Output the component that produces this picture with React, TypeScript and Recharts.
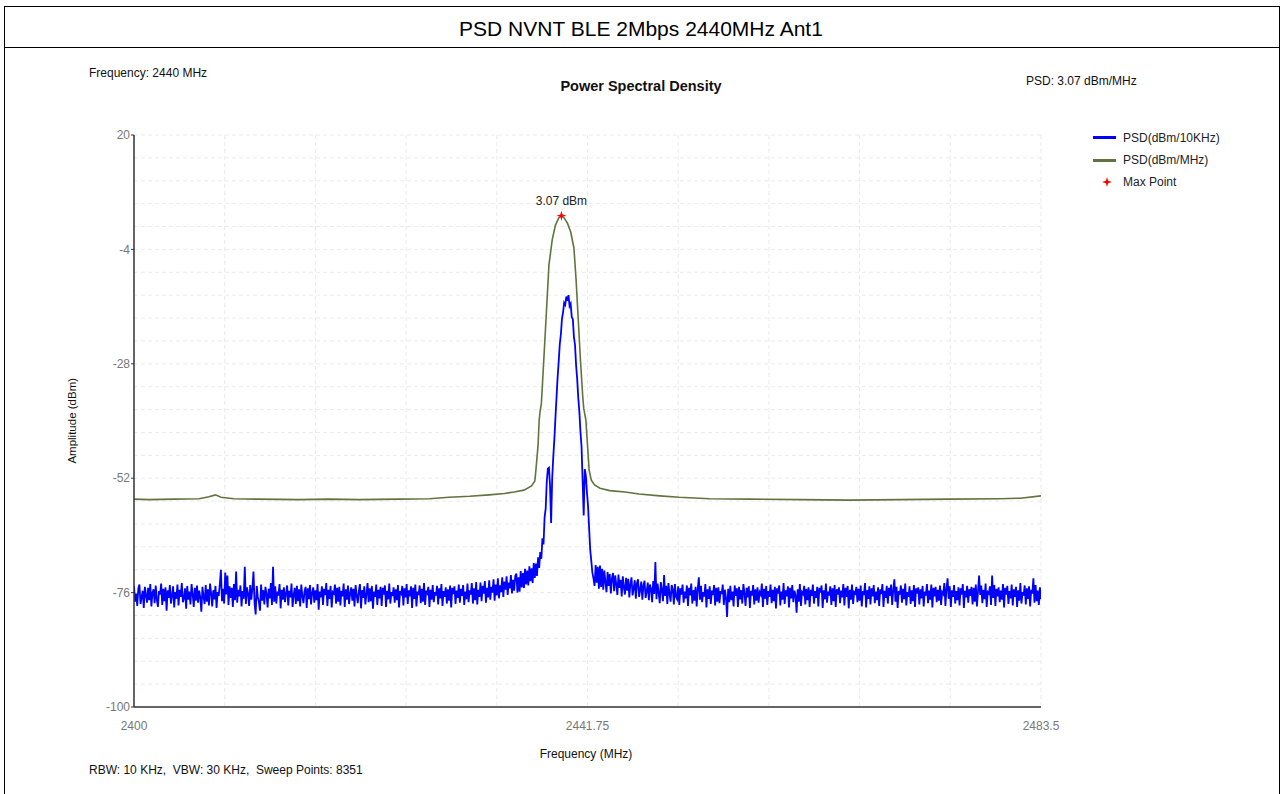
import React from 'react';
import { ComposedChart, Line, Scatter, XAxis, YAxis, CartesianGrid, LabelList } from 'recharts';

// ---- sweep grid of the 10 kHz trace (display points, 0.1 MHz apart) ----
const SWEEP_START = 2400;
const SWEEP_STEP = 0.1;

// PSD (dBm/10KHz), left noise floor (2400.0 .. 2435.1)
const blueLeft = [
  -74.6, -77.9, -76.2, -78.8, -75.1, -74.3, -78.4, -77.0, -75.6, -79.2,
  -74.8, -76.5, -78.1, -75.0, -77.6, -74.2, -78.9, -76.0, -75.3, -78.2,
  -74.5, -77.4, -79.0, -75.7, -76.4, -74.1, -78.6, -75.2, -77.8, -74.9,
  -79.8, -75.5, -77.1, -74.4, -78.3, -76.6, -74.7, -79.1, -75.9, -77.3,
  -74.3, -78.7, -75.4, -76.9, -74.0, -78.0, -77.2, -75.1, -79.4, -74.6,
  -77.5, -75.8, -78.5, -74.2, -76.3, -79.0, -75.0, -77.7, -74.5, -78.1,
  -75.6, -77.0, -80.0, -74.8, -76.8, -78.4, -74.4, -77.9, -75.3, -78.7,
  -74.1, -76.1, -78.9, -75.5, -77.4, -74.6, -79.2, -75.9, -76.7, -74.3,
  -71.2, -77.8, -75.2, -78.3, -71.8, -76.4, -72.4, -78.6, -74.7, -77.1,
  -75.0, -79.0, -74.2, -77.6, -71.6, -78.1, -75.4, -76.8, -74.5, -78.9,
  -75.7, -77.3, -70.6, -78.4, -74.9, -76.2, -78.8, -74.4, -77.5, -75.1,
  -71.6, -78.2, -80.6, -74.6, -76.9, -78.0, -79.8, -74.3, -77.7, -75.5,
  -78.5, -74.8, -76.3, -79.1, -75.2, -77.2, -74.0, -78.6, -70.6, -77.9,
  -74.7, -78.3, -75.8, -76.6, -74.2, -79.3, -75.4, -77.5, -74.9, -78.0,
  -76.1, -74.5, -78.7, -75.6, -77.0, -74.1, -79.0, -76.4, -75.0, -78.4,
  -74.6, -77.8, -75.3, -78.9, -74.3, -76.7, -78.2, -75.7, -74.8, -79.2,
  -75.1, -77.4, -74.4, -78.5, -76.0, -74.9, -78.1, -75.5, -77.6, -74.2,
  -79.6, -75.8, -77.0, -74.7, -78.6, -75.2, -76.5, -74.0, -78.8, -75.4,
  -77.3, -74.6, -79.1, -75.9, -76.2, -74.3, -78.3, -75.0, -77.9, -74.8,
  -78.7, -75.6, -76.8, -74.1, -79.0, -75.3, -77.5, -74.5, -78.4, -76.1,
  -74.9, -77.7, -75.2, -78.9, -74.4, -76.6, -78.2, -75.7, -74.2, -79.3,
  -75.5, -77.1, -74.7, -78.5, -76.3, -74.0, -78.0, -75.1, -77.8, -74.6,
  -79.4, -75.8, -76.9, -74.3, -78.6, -75.4, -77.2, -74.8, -78.8, -75.0,
  -76.4, -74.5, -79.0, -75.6, -77.4, -74.1, -78.3, -75.9, -76.7, -74.9,
  -78.1, -75.3, -77.6, -74.4, -79.1, -75.7, -76.2, -74.6, -78.7, -75.1,
  -77.0, -74.2, -78.4, -75.5, -76.8, -74.7, -79.2, -75.0, -77.3, -74.3,
  -78.9, -75.8, -76.5, -74.5, -78.2, -75.2, -77.9, -74.0, -78.6, -75.6,
  -76.1, -74.8, -79.0, -75.4, -77.5, -74.4, -78.0, -75.9, -76.6, -74.6,
  -78.5, -75.1, -77.2, -74.2, -78.8, -75.7, -76.9, -74.9, -78.3, -75.3,
  -77.7, -74.5, -79.1, -75.0, -76.3, -74.7, -78.4, -75.6, -77.1, -74.3,
  -78.1, -75.2, -76.7, -74.4, -78.6, -75.8, -77.4, -74.1, -78.0, -75.5,
  -76.4, -74.0, -78.3, -75.1, -77.6, -73.8, -78.5, -75.4, -76.9, -73.9,
  -77.8, -74.6, -76.2, -73.6, -78.1, -75.0, -77.0, -73.4, -77.5, -74.8,
  -76.0, -73.2, -77.7, -74.3, -76.6, -73.0, -77.2, -74.5, -75.9, -72.8,
  -76.9, -73.7, -75.4, -72.6, -76.5, -73.9, -75.1, -72.3, -76.2, -73.3,
  -75.6, -72.5,
];

// PSD (dBm/10KHz) around the carrier (2435.2 .. 2443.1)
const bluePeak = [
  -72.0, -76.0, -72.8, -75.8, -71.5, -74.9, -71.9, -75.0, -71.0, -74.3,
  -71.4, -74.5, -70.5, -73.6, -70.9, -74.0, -69.8, -72.9, -69.9, -72.5,
  -68.6, -70.8, -67.5, -68.9, -64.6, -65.9, -60.2, -58.4, -52.8, -50.0,
  -49.8, -53.5, -61.4, -52.0, -47.5, -43.8, -39.2, -35.0, -30.8, -27.5,
  -23.8, -21.8, -18.5, -17.2, -15.2, -15.6, -13.9, -14.8, -13.6, -15.9,
  -15.4, -18.2, -18.6, -22.4, -24.0, -28.3, -31.2, -35.1, -38.0, -42.2,
  -45.3, -52.5, -59.8, -50.1, -51.5, -55.0, -57.8, -62.5, -67.0, -69.4,
  -71.8, -73.0, -74.6, -70.2, -73.9, -70.6, -75.2, -70.3, -74.8, -71.0,
];

// PSD (dBm/10KHz) right noise floor (2443.2 .. 2483.5)
const blueRight = [
  -75.4, -71.4, -73.8, -75.9, -71.7, -74.6, -72.1, -76.2, -73.0, -71.9,
  -75.7, -72.4, -74.3, -76.5, -72.2, -75.0, -73.3, -76.8, -72.6, -74.9,
  -76.4, -72.9, -75.6, -73.1, -77.0, -74.2, -72.8, -76.6, -75.1, -73.4,
  -77.3, -74.0, -73.2, -76.9, -75.4, -73.7, -77.5, -74.5, -73.5, -77.1,
  -75.8, -73.9, -77.6, -74.3, -75.2, -78.0, -73.6, -76.3, -69.6, -77.4,
  -74.1, -76.0, -78.2, -73.8, -75.5, -77.8, -72.3, -76.7, -74.6, -78.4,
  -74.0, -76.2, -77.9, -74.4, -75.3, -78.5, -74.2, -76.9, -77.4, -74.7,
  -78.6, -75.1, -76.4, -74.3, -78.1, -75.8, -77.2, -74.5, -78.8, -75.0,
  -76.6, -74.1, -78.3, -75.5, -77.7, -74.8, -78.9, -75.2, -72.8, -77.5,
  -74.6, -78.0, -75.9, -76.8, -74.2, -79.1, -75.3, -77.3, -74.7, -78.4,
  -75.6, -76.5, -74.4, -78.7, -75.0, -77.9, -74.9, -78.2, -75.7, -76.3,
  -74.3, -78.6, -75.4, -77.1, -81.1, -75.2, -78.0, -74.6, -77.6, -75.8,
  -78.9, -74.5, -76.7, -75.1, -79.0, -74.8, -77.4, -75.5, -78.3, -74.2,
  -76.1, -78.8, -75.0, -77.0, -74.7, -79.2, -75.6, -76.6, -74.4, -78.5,
  -75.3, -77.7, -74.9, -78.1, -75.9, -76.4, -74.1, -79.0, -75.2, -77.3,
  -74.6, -78.6, -75.7, -76.9, -74.3, -78.2, -75.4, -77.8, -74.8, -79.3,
  -75.1, -76.2, -74.5, -78.7, -75.8, -77.5, -74.0, -78.4, -75.5, -76.8,
  -74.7, -79.1, -75.0, -77.2, -74.4, -78.0, -75.6, -76.5, -80.2, -75.3,
  -77.9, -74.2, -78.8, -75.9, -76.3, -74.6, -78.5, -75.2, -77.6, -74.9,
  -79.0, -75.4, -76.7, -74.3, -78.3, -75.7, -77.1, -74.8, -78.9, -75.0,
  -76.0, -74.5, -79.2, -75.5, -77.4, -74.1, -78.1, -75.8, -76.6, -74.7,
  -78.6, -75.1, -77.8, -74.4, -79.0, -75.3, -76.4, -74.9, -78.2, -75.6,
  -77.0, -74.2, -78.7, -75.0, -76.9, -74.6, -79.3, -75.4, -77.5, -74.3,
  -78.4, -75.9, -76.2, -74.8, -78.0, -75.2, -77.7, -74.5, -78.9, -75.7,
  -76.5, -74.0, -79.1, -75.5, -77.3, -74.7, -78.5, -75.1, -76.8, -74.4,
  -78.2, -75.8, -77.6, -74.9, -78.8, -75.3, -76.3, -74.2, -79.0, -75.6,
  -77.1, -74.6, -78.3, -75.0, -76.7, -74.3, -78.6, -75.4, -73.2, -77.9,
  -74.8, -79.2, -75.7, -76.4, -74.5, -78.1, -75.2, -77.4, -74.1, -78.7,
  -75.9, -76.9, -74.7, -78.4, -75.5, -77.8, -74.4, -79.0, -75.1, -76.2,
  -74.9, -78.5, -75.3, -77.2, -74.6, -78.9, -75.8, -76.6, -74.2, -78.2,
  -75.6, -77.5, -74.3, -79.1, -75.0, -76.8, -74.8, -78.0, -75.4, -77.7,
  -74.5, -78.6, -75.9, -76.3, -74.0, -78.8, -75.2, -73.0, -77.3, -74.7,
  -79.0, -75.5, -76.9, -74.4, -78.3, -75.7, -77.6, -74.9, -78.7, -75.1,
  -76.4, -74.2, -79.2, -75.6, -77.0, -74.6, -78.1, -75.3, -76.7, -74.8,
  -78.5, -75.0, -77.9, -74.3, -78.9, -75.8, -72.4, -76.5, -74.5, -78.2,
  -75.4, -77.4, -74.1, -79.0, -75.9, -76.2, -74.7, -78.6, -72.4, -77.1,
  -74.4, -78.8, -75.2, -76.8, -74.9, -78.0, -75.6, -77.5, -74.2, -79.1,
  -75.0, -76.4, -74.6, -78.4, -75.7, -77.2, -74.3, -78.7, -75.3, -76.9,
  -74.8, -79.0, -75.5, -77.7, -74.0, -78.3, -75.9, -76.6, -74.5, -78.5,
  -75.1, -77.3, -74.7, -78.9, -75.4, -76.2, -73.0, -78.1, -74.4, -77.8,
  -75.6, -78.6, -74.9, -77.4,
];

// PSD (dBm/MHz) trace
const greenFreq = [
  2400.0, 2401.4, 2403.7, 2406.0, 2406.9, 2407.5, 2408.0, 2409.2, 2411.5, 2415.2,
  2418.0, 2420.7, 2424.4, 2427.2, 2429.0, 2430.9, 2432.7, 2434.1, 2435.0, 2435.9,
  2436.6, 2436.9, 2437.0, 2437.2, 2437.3, 2437.4, 2437.5, 2437.6, 2437.8, 2438.0,
  2438.2, 2438.5, 2438.8, 2439.1, 2439.35, 2439.6, 2439.9, 2440.2, 2440.5, 2440.7,
  2440.9, 2441.1, 2441.3, 2441.4, 2441.6, 2441.75, 2441.9, 2442.1, 2442.4, 2442.9,
  2443.8, 2445.2, 2446.5, 2448.4, 2450.2, 2453.0, 2456.7, 2461.3, 2465.9, 2470.5,
  2475.1, 2479.7, 2481.6, 2483.5,
];
const greenDb = [
  -56.4, -56.5, -56.4, -56.3, -55.9, -55.5, -56.0, -56.3, -56.4, -56.5,
  -56.4, -56.5, -56.4, -56.3, -56.0, -55.8, -55.5, -55.2, -54.9, -54.5,
  -53.6, -52.6, -50.3, -45.0, -39.8, -37.7, -36.4, -32.4, -24.1, -15.7,
  -7.3, -2.0, 1.1, 2.6, 3.07, 2.6, 1.5, -0.3, -3.7, -10.4,
  -18.8, -27.2, -34.5, -37.3, -39.8, -45.0, -50.3, -52.4, -53.4, -54.1,
  -54.6, -54.9, -55.3, -55.7, -56.0, -56.3, -56.4, -56.5, -56.6, -56.5,
  -56.4, -56.3, -56.2, -55.7,
];

const maxPoint = [{ f: 2439.35, v: 3.07 }];

const xTicks = [2400, 2441.75, 2483.5];
const yTicks = [20, -4, -28, -52, -76, -100];
const xGrid = [2400, 2408.35, 2416.7, 2425.05, 2433.4, 2441.75, 2450.1, 2458.45, 2466.8, 2475.15, 2483.5];
const yGrid = [20, 15.2, 10.4, 5.6, 0.8, -4, -8.8, -13.6, -18.4, -23.2, -28, -32.8, -37.6, -42.4, -47.2,
  -52, -56.8, -61.6, -66.4, -71.2, -76, -80.8, -85.6, -90.4, -95.2, -100];

const blueData = [...blueLeft, ...bluePeak, ...blueRight].map((v, i) => ({ f: +(SWEEP_START + i * SWEEP_STEP).toFixed(2), v }));
const greenData = greenFreq.map((f, i) => ({ f, v: greenDb[i] }));

const FONT = '"Liberation Sans", Arial, sans-serif';
const BLUE = '#0000ff';
const GREEN = '#62733f';

const applyScale = (s: any, v: number) => (typeof s === 'function' ? s(v) : s && s.map ? s.map(v) : 0);

const Star = (props: any) => {
  const { cx, cy } = props;
  if (cx == null || cy == null) return null;
  const r = 5, ri = 1.6;
  const pts: string[] = [];
  for (let k = 0; k < 8; k++) {
    const a = (Math.PI / 4) * k - Math.PI / 2;
    const rr = k % 2 === 0 ? r : ri;
    pts.push(`${cx + rr * Math.cos(a)},${cy + rr * Math.sin(a)}`);
  }
  return <polygon points={pts.join(' ')} fill="#ff0000" />;
};

const MaxLabel = (props: any) => {
  const { x, y, width, height, value } = props;
  const cx = x + (width || 0) / 2;
  const cy = y + (height || 0) / 2;
  return (
    <text x={cx} y={cy - 11} textAnchor="middle" fill="#222" fontSize={12} fontFamily={FONT}>
      {`${value} dBm`}
    </text>
  );
};

const txt = (extra: React.CSSProperties): React.CSSProperties => ({
  position: 'absolute', fontFamily: FONT, color: '#111', whiteSpace: 'pre', lineHeight: 1, ...extra,
});

export default function App() {
  return (
    <div style={{ position: 'absolute', left: 0, top: 0, width: 1282, height: 794, background: '#fff', overflow: 'hidden' }}>
      <div style={{ position: 'absolute', left: 4, top: 6, width: 1274, height: 800, border: '1px solid #000' }} />
      <div style={{ position: 'absolute', left: 4, top: 47, width: 1276, height: 1, background: '#000' }} />
      <div style={txt({ left: 0, width: 1282, top: 18, fontSize: 21, textAlign: 'center', color: '#000' })}>PSD NVNT BLE 2Mbps 2440MHz Ant1</div>
      <div style={txt({ left: 89, top: 67, fontSize: 12 })}>Frequency: 2440 MHz</div>
      <div style={txt({ left: 441, width: 400, top: 79, fontSize: 14.5, fontWeight: 'bold', textAlign: 'center' })}>Power Spectral Density</div>
      <div style={txt({ left: 1026, top: 75, fontSize: 12 })}>PSD: 3.07 dBm/MHz</div>
      <div style={txt({ left: 386, width: 400, top: 748, fontSize: 12, textAlign: 'center' })}>Frequency (MHz)</div>
      <div style={txt({ left: 89, top: 764, fontSize: 12 })}>{'RBW: 10 KHz,  VBW: 30 KHz,  Sweep Points: 8351'}</div>
      <div style={txt({ left: 73 - 60, width: 120, top: 421 - 6, fontSize: 11.5, textAlign: 'center', transform: 'rotate(-90deg)' })}>Amplitude (dBm)</div>

      <ComposedChart
        width={1282}
        height={794}
        style={{ position: 'absolute', left: 0, top: 0 }}
        margin={{ top: 135, right: 241, bottom: 57, left: 94 }}
      >
        <CartesianGrid
          stroke="#ebebeb"
          strokeDasharray="4 3"
          horizontalCoordinatesGenerator={({ yAxis }: any) => yGrid.map((v) => applyScale(yAxis?.scale, v))}
          verticalCoordinatesGenerator={({ xAxis }: any) => xGrid.map((v) => applyScale(xAxis?.scale, v))}
        />
        <XAxis
          dataKey="f"
          type="number"
          domain={[2400, 2483.5]}
          ticks={xTicks}
          interval={0}
          allowDataOverflow
          height={30}
          tickLine={false}
          tickSize={6}
          tickMargin={8}
          axisLine={{ stroke: '#333', strokeWidth: 1.5 }}
          tick={{ fill: '#777', fontSize: 12, fontFamily: FONT }}
          tickFormatter={(v: number) => String(v)}
        />
        <YAxis
          type="number"
          domain={[-100, 20]}
          ticks={yTicks}
          interval={0}
          allowDataOverflow
          width={40}
          tickSize={3}
          tickMargin={1}
          tickLine={{ stroke: '#333' }}
          axisLine={{ stroke: '#333', strokeWidth: 1.5 }}
          tick={{ fill: '#777', fontSize: 12, fontFamily: FONT }}
        />
        <Line data={greenData} dataKey="v" stroke={GREEN} strokeWidth={1.6} dot={false} isAnimationActive={false} name="PSD(dBm/MHz)" />
        <Line data={blueData} dataKey="v" stroke={BLUE} strokeWidth={1.8} dot={false} isAnimationActive={false} name="PSD(dBm/10KHz)" />
        <Scatter data={maxPoint} dataKey="v" fill="#ff0000" shape={<Star />} isAnimationActive={false} name="Max Point">
          <LabelList dataKey="v" content={<MaxLabel />} />
        </Scatter>
      </ComposedChart>

      {/* legend */}
      <div style={{ position: 'absolute', left: 1093, top: 136, width: 23, height: 3, background: BLUE }} />
      <div style={txt({ left: 1123, top: 132, fontSize: 12, color: '#222' })}>PSD(dBm/10KHz)</div>
      <div style={{ position: 'absolute', left: 1093, top: 159, width: 23, height: 3, background: GREEN }} />
      <div style={txt({ left: 1123, top: 154, fontSize: 12, color: '#222' })}>PSD(dBm/MHz)</div>
      <svg style={{ position: 'absolute', left: 1100, top: 176 }} width={14} height={14}>
        <Star cx={7} cy={6} />
      </svg>
      <div style={txt({ left: 1123, top: 176, fontSize: 12, color: '#222' })}>Max Point</div>
    </div>
  );
}
